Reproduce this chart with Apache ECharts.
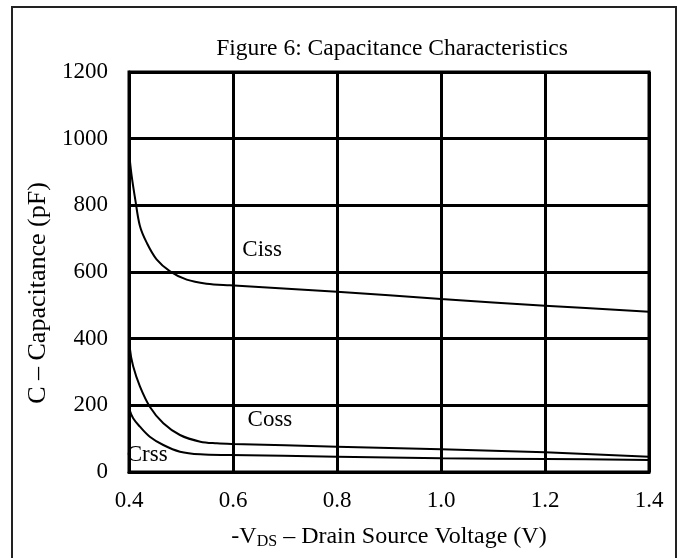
<!DOCTYPE html>
<html>
<head>
<meta charset="utf-8">
<script src="https://cdn.jsdelivr.net/npm/echarts@6/dist/echarts.min.js"></script>
<style>
html,body{margin:0;padding:0;background:#fff;}
#c{width:681px;height:558px;}
</style>
</head>
<body>
<div id="c"></div>
<script>
var xTicks = [0.4, 0.6, 0.8, 1.0, 1.2, 1.4];
var yTicks = [0, 200, 400, 600, 800, 1000, 1200];

var cissX = [0.4, 0.405, 0.412, 0.421, 0.434, 0.453, 0.479, 0.511, 0.549, 0.594, 0.8, 1.0, 1.2, 1.4];
var cissY = [960, 890, 818, 738, 688, 638, 602, 577, 565, 560, 541, 519, 499, 481];

var cossX = [0.4, 0.4005, 0.402, 0.408, 0.421, 0.44, 0.466, 0.498, 0.537, 0.569, 0.6, 0.8, 1.0, 1.2, 1.4];
var cossY = [505, 440, 367, 317, 257, 196, 146, 111, 91, 86, 84, 76, 68, 59, 46];

var crssX = [0.4, 0.408, 0.421, 0.44, 0.466, 0.498, 0.537, 0.594, 0.8, 1.0, 1.2, 1.4];
var crssY = [191, 161, 136, 106, 81, 61, 53, 51, 46, 41, 39, 36];

var curveNames = ['Ciss', 'Coss', 'Crss'];
var labelX = [0.656, 0.671, 0.435];
var labelY = [666, 156, 51];

function pairs(xs, ys){ return xs.map(function(x,i){ return [x, ys[i]]; }); }

var FONT = 'Liberation Serif';
var chart = echarts.init(document.getElementById('c'));
var lineStyle = {color:'#000', width:2};

function curve(xs, ys){
  return {type:'line', data:pairs(xs, ys), smooth:0.35,
    symbol:'none', lineStyle:lineStyle, z:5};
}

chart.setOption({
  animation:false,
  backgroundColor:'#fff',
  title:{
    text:'Figure 6: Capacitance Characteristics',
    left:387, top:32, textAlign:'center',
    textStyle:{fontFamily:FONT, fontSize:23.5, fontWeight:'normal', color:'#000'}
  },
  grid:{left:129, top:72, width:520, height:400, show:true, borderColor:'#000', borderWidth:3},
  xAxis:{
    type:'value', min:0.4, max:1.4, interval:0.2,
    axisLine:{show:true, lineStyle:{color:'#000', width:3}},
    axisTick:{show:false},
    splitLine:{show:true, lineStyle:{color:'#000', width:3}},
    axisLabel:{fontFamily:FONT, fontSize:23, color:'#000', margin:17,
      formatter:function(v){ return v.toFixed(1); }},
    name:'{n|-V}{s|DS}{n| – Drain Source Voltage (V)}',
    nameLocation:'middle', nameGap:51,
    nameTextStyle:{rich:{
      n:{fontFamily:FONT, fontSize:24, color:'#000'},
      s:{fontFamily:FONT, fontSize:16, color:'#000', verticalAlign:'bottom', padding:[11,0,0,0]}
    }}
  },
  yAxis:{
    type:'value', min:0, max:1200, interval:200,
    axisLine:{show:true, lineStyle:{color:'#000', width:3}},
    axisTick:{show:false},
    splitLine:{show:true, lineStyle:{color:'#000', width:3}},
    axisLabel:{fontFamily:FONT, fontSize:23, color:'#000', margin:21,
      formatter:function(v){ return String(v); }},
    name:'C – Capacitance (pF)',
    nameLocation:'middle', nameGap:76,
    nameTextStyle:{fontFamily:FONT, fontSize:26, color:'#000', padding:[0,42,0,0]}
  },
  graphic:[{
    type:'rect', shape:{x:12, y:7, width:664, height:560},
    style:{fill:'none', stroke:'#222', lineWidth:2}, z:100
  }],
  series:[
    curve(cissX, cissY),
    curve(cossX, cossY),
    curve(crssX, crssY),
    {type:'scatter', symbolSize:0, z:6, itemStyle:{opacity:1},
      data:curveNames.map(function(n,i){ return {value:[labelX[i], labelY[i]], name:n}; }),
      label:{show:true, position:'inside', formatter:'{b}', fontFamily:FONT, fontSize:23,
        color:'#000', opacity:1}}
  ]
});
</script>
</body>
</html>
